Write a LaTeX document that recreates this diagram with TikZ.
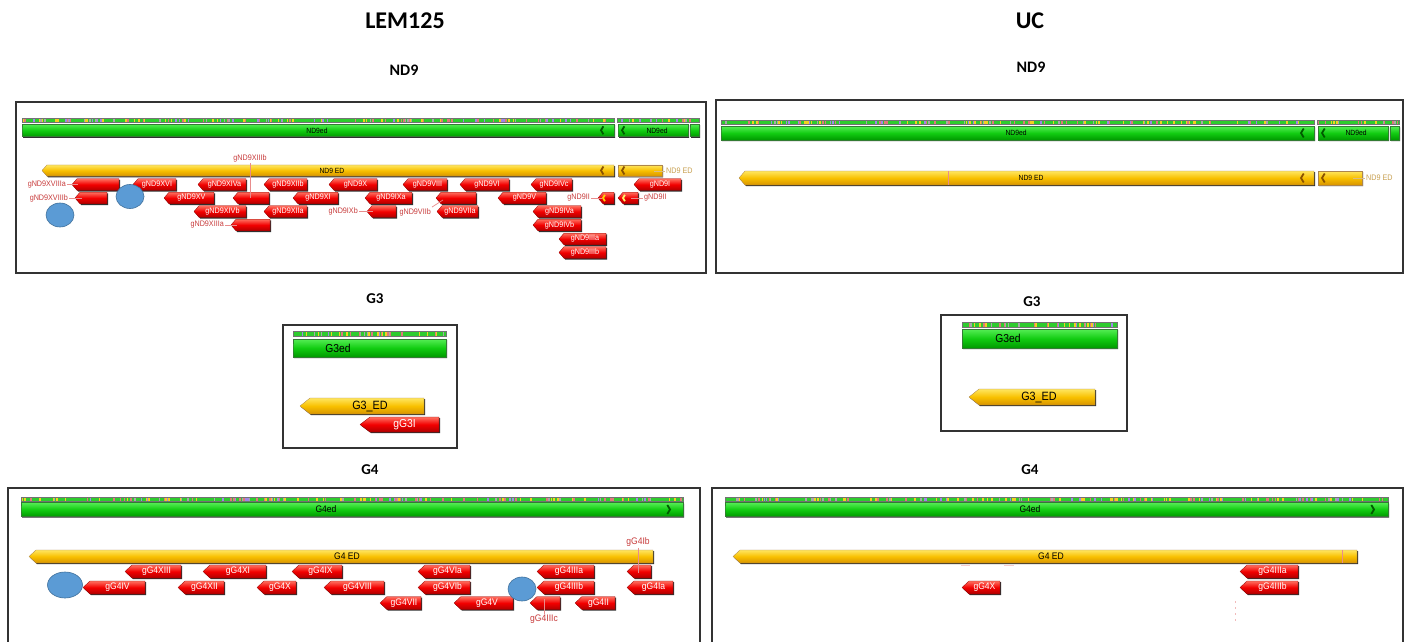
\documentclass[tikz,border=0pt]{standalone}
\usepackage{fontspec}
\setmainfont{Liberation Sans}
\newfontfamily\titlefont{Carlito}
\newfontfamily\gfont{Liberation Sans}[FakeStretch=0.9]
\usetikzlibrary{shapes.geometric}
\definecolor{rtop}{HTML}{FF7060}
\definecolor{rmid}{HTML}{F20000}
\definecolor{rbot}{HTML}{B00000}
\definecolor{ytop}{HTML}{FFE660}
\definecolor{ymid}{HTML}{F8C000}
\definecolor{ybot}{HTML}{D89400}
\definecolor{gtop}{HTML}{55EE55}
\definecolor{gmid}{HTML}{12CC12}
\definecolor{gbot}{HTML}{009A00}
\definecolor{gdark}{HTML}{005A00}
\definecolor{ydark}{HTML}{8A5200}
\definecolor{circfill}{HTML}{5B9BD5}
\definecolor{circdraw}{HTML}{41719C}
\definecolor{lblred}{HTML}{C83C3C}
\definecolor{lbltan}{HTML}{C8A050}
\definecolor{pinkline}{HTML}{E88C8C}
\definecolor{stgreen}{HTML}{2ECC2E}
\definecolor{stpink}{HTML}{E07878}
\definecolor{styellow}{HTML}{F2D020}
\definecolor{stpurple}{HTML}{9F86E8}
\definecolor{stgray}{HTML}{A8A8A8}
\definecolor{shadowc}{HTML}{303030}
\pgfmathdeclarerandomlist{stcols}{{stpink}{styellow}{stpurple}{stgray}{stpink}{styellow}}
\tikzset{
  frame/.style={draw=black!80, line width=1.3pt},
  title/.style={font=\titlefont\bfseries\fontsize{24}{28}\selectfont},
  subtitle/.style={font=\titlefont\bfseries\fontsize{16}{19}\selectfont},
  subtitlesm/.style={font=\titlefont\bfseries\fontsize{15}{18}\selectfont},
  redsh/.style={top color=rtop, bottom color=rbot, middle color=rmid, draw=rbot!85!black, line width=0.3pt},
  yelsh/.style={top color=ytop, bottom color=ybot, middle color=ymid, draw=ydark!70, line width=0.3pt},
  grnsh/.style={top color=gtop, bottom color=gbot, middle color=gmid, draw=gdark!80, line width=0.3pt},
  genetxt/.style={inner sep=0pt, text=white},
  bartxt/.style={inner sep=0pt, text=black},
  extred/.style={inner sep=1pt, text=lblred, font=\gfont\fontsize{8}{8}\selectfont},
  exttan/.style={inner sep=1pt, text=lbltan, font=\gfont\fontsize{8}{8}\selectfont},
  leadred/.style={draw=pinkline, line width=0.7pt},
  leadtan/.style={draw=lbltan!70, line width=0.7pt},
  circ/.style={ellipse, fill=circfill, draw=circdraw, line width=0.6pt, inner sep=0pt},
}
% pentagon pointing left: style, x1, x2, yc, half height, tip length
\newcommand\pent[6]{%
  \fill[shadowc] ({#2+1.2},{#4+1.2}) -- ({#2+#6+1.2},{#4-#5+1.2}) -- ({#3+1.2},{#4-#5+1.2}) -- ({#3+1.2},{#4+#5+1.2}) -- ({#2+#6+1.2},{#4+#5+1.2}) -- cycle;
  \shadedraw[#1] (#2,#4) -- ({#2+#6},{#4-#5}) -- (#3,{#4-#5}) -- (#3,{#4+#5}) -- ({#2+#6},{#4+#5}) -- cycle;
}
% gene: name, x1, x2, yc, half height, tip, font size, label
\newcommand\gene[8]{%
  \pent{redsh}{#2}{#3}{#4}{#5}{#6}
  \coordinate (#1-tip) at (#2,#4);
  \node[genetxt, font=\gfont\fontsize{#7}{#7}\selectfont] (#1) at ({(#2+#6+#3)/2},#4) {#8};
}
\newcommand\gnine[5]{\gene{#1}{#2}{#3}{#4}{5.8}{5}{8}{#5}}
\newcommand\gfour[5]{\gene{#1}{#2}{#3}{#4}{6.5}{7}{9.5}{#5}}
% stripe: x1 x2 ytop ybot
\newcommand\stripe[4]{%
  \fill[stgreen] (#1,#3) rectangle (#2,#4);
  \pgfmathtruncatemacro\ntick{(#2-#1)/4.5}
  \foreach \k in {1,...,\ntick}{%
    \pgfmathsetmacro\stx{#1+rnd*(#2-#1-1.5)}
    \pgfmathrandomitem{\stc}{stcols}
    \fill[\stc] (\stx,#3) rectangle ({\stx+1.5},#4);
  }
  \draw[black!55, line width=0.5pt] (#1,#3) rectangle (#2,#4);
}
% chevrons: x yc size colour
\newcommand\chevL[4]{\draw[#4, line width=1.8pt] ({#1+#3*0.6},{#2-#3}) -- (#1,#2) -- ({#1+#3*0.6},{#2+#3});}
\newcommand\chevR[4]{\draw[#4, line width=1.8pt] ({#1-#3*0.6},{#2-#3}) -- (#1,#2) -- ({#1-#3*0.6},{#2+#3});}
\begin{document}
\begin{tikzpicture}[x=1pt,y=-1pt]
\pgfmathsetseed{7}
\useasboundingbox (0,0) rectangle (1406,642);
\fill[white] (0,0) rectangle (1406,642);

% titles
\node[title] (tL) at (405,21) {LEM125};
\node[title] (tU) at (1030,21) {UC};
\node[subtitle] (nd9L) at (404,70) {ND9};
\node[subtitle] (nd9U) at (1031,67) {ND9};
\node[subtitlesm] (g3L) at (375,299) {G3};
\node[subtitlesm] (g3U) at (1032,302) {G3};
\node[subtitlesm] (g4L) at (370,470) {G4};
\node[subtitlesm] (g4U) at (1030,470) {G4};

% frames
\draw[frame] (16,102) rectangle (706,273);
\draw[frame] (716,100) rectangle (1403,273);
\draw[frame] (283,325) rectangle (457,448);
\draw[frame] (941,315) rectangle (1127,431);
\draw[frame] (8,645) -- (8,488) -- (700,488) -- (700,645);
\draw[frame] (712,645) -- (712,488) -- (1403,488) -- (1403,645);

% ===== LEM125 ND9 =====
\stripe{22}{614}{118}{122.5}
\stripe{617}{699}{118}{122.5}
\pent{grnsh}{22}{614}{130.3}{6.3}{0}
\pent{grnsh}{618}{688}{130.3}{6.3}{0}
\pent{grnsh}{690}{699}{130.3}{6.3}{0}
\chevL{601}{130.3}{4}{gdark}
\chevL{622}{130.3}{4}{gdark}
\node[bartxt, font=\gfont\fontsize{7.5}{7.5}\selectfont] (nd9edL1) at (317,130.5) {ND9ed};
\node[bartxt, font=\gfont\fontsize{7.5}{7.5}\selectfont] (nd9edL2) at (657,130.5) {ND9ed};
\pent{yelsh}{42}{614}{170.5}{5.6}{5}
\pent{yelsh}{618}{662}{170.5}{5.6}{0}
\chevL{601}{170.5}{4}{ydark}
\chevL{622}{170.5}{4}{ydark}
\node[bartxt, font=\gfont\fontsize{7.5}{7.5}\selectfont] (nd9EDL) at (332,170.5) {ND9 ED};
\coordinate (nd9EDLin) at (654,171);
\node[exttan, anchor=west] (nd9EDLx) at (665,171) {ND9 ED};
\draw[leadtan] (nd9EDLin) -- (nd9EDLx.west);

\gnine{n-XVIIIa}{72}{119}{184.5}{}
\gnine{n-XVI}{133}{176}{184.5}{gND9XVI}
\gnine{n-XIVa}{198}{246}{184.5}{gND9XIVa}
\gnine{n-XIIb}{264}{307}{184.5}{gND9XIIb}
\gnine{n-X}{329}{377}{184.5}{gND9X}
\gnine{n-VIII}{403}{447}{184.5}{gND9VIII}
\gnine{n-VI}{460}{509}{184.5}{gND9VI}
\gnine{n-IVc}{531}{572}{184.5}{gND9IVc}
\gnine{n-I}{634}{681}{184.5}{gND9I}
\gnine{n-XVIIIb}{75}{107}{198}{}
\gnine{n-XV}{164}{214}{198}{gND9XV}
\gnine{n-XIIIb}{233}{269}{198}{}
\gnine{n-XI}{293}{338}{198}{gND9XI}
\gnine{n-IXa}{365}{412}{198}{gND9IXa}
\gnine{n-VIIb}{436}{476}{198}{}
\gnine{n-V}{498}{546}{198}{gND9V}
\gnine{n-IIa}{598}{614}{198}{}
\gnine{n-IIb}{618}{638}{198}{}
\chevL{603}{198}{3.2}{yellow!70!orange}
\chevL{623}{198}{3.2}{yellow!60!white}
\gnine{n-XIVb}{194}{246}{211.5}{gND9XIVb}
\gnine{n-XIIa}{264}{307}{211.5}{gND9XIIa}
\gnine{n-IXb}{367}{396}{211.5}{}
\gnine{n-VIIa}{437}{478}{211.5}{gND9VIIa}
\gnine{n-IVa}{533}{581}{211.5}{gND9IVa}
\gnine{n-XIIIa}{231}{270}{225}{}
\gnine{n-IVb}{533}{581}{225}{gND9IVb}
\gnine{n-IIIa}{559}{606}{239}{gND9IIIa}
\gnine{n-IIIb}{559}{606}{252.5}{gND9IIIb}

\node[extred, anchor=east] (l-XVIIIa) at (67,184.5) {gND9XVIIIa};
\draw[leadred] (l-XVIIIa.east) -- ([xshift=6pt]n-XVIIIa-tip);
\node[extred, anchor=east] (l-XVIIIb) at (69,198) {gND9XVIIIb};
\draw[leadred] (l-XVIIIb.east) -- ([xshift=7pt]n-XVIIIb-tip);
\node[extred] (l-XIIIb) at (250,158) {gND9XIIIb};
\draw[leadred] (l-XIIIb.south) -- (l-XIIIb.south |- n-XIIIb);
\node[extred, anchor=east] (l-IXb) at (359,211.5) {gND9IXb};
\draw[leadred] (l-IXb.east) -- ([xshift=6pt]n-IXb-tip);
\node[extred, anchor=east] (l-XIIIa) at (225,225) {gND9XIIIa};
\draw[leadred] (l-XIIIa.east) -- ([xshift=6pt]n-XIIIa-tip);
\node[extred, anchor=east] (l-VIIb) at (432,212) {gND9VIIb};
\draw[leadred] (l-VIIb.north east) -- ([shift={(7,2)}]n-VIIb-tip);
\node[extred, anchor=east] (l-IIa) at (591,198) {gND9II};
\draw[leadred] (l-IIa.east) -- ([xshift=4pt]n-IIa-tip);
\node[extred, anchor=west] (l-IIb) at (643,198) {gND9II};
\draw[leadred] (n-IIb) -- (l-IIb.west);

% ===== UC ND9 =====
\stripe{721}{1314}{120}{124.5}
\stripe{1317}{1399}{120}{124.5}
\pent{grnsh}{721}{1314}{133}{6.8}{0}
\pent{grnsh}{1318}{1388}{133}{6.8}{0}
\pent{grnsh}{1390}{1399}{133}{6.8}{0}
\chevL{1301}{133}{4.5}{gdark}
\chevL{1322}{133}{4.5}{gdark}
\node[bartxt, font=\gfont\fontsize{7.5}{7.5}\selectfont] (nd9edU1) at (1016,133) {ND9ed};
\node[bartxt, font=\gfont\fontsize{7.5}{7.5}\selectfont] (nd9edU2) at (1356,133) {ND9ed};
\pent{yelsh}{739}{1314}{178}{7}{6}
\pent{yelsh}{1318}{1362}{178}{7}{0}
\chevL{1301}{178}{4.5}{ydark}
\chevL{1322}{178}{4.5}{ydark}
\node[bartxt, font=\gfont\fontsize{7.5}{7.5}\selectfont] (nd9EDU) at (1031,178) {ND9 ED};
\coordinate (pkU1a) at (948,171);
\coordinate (pkU1b) at (948,185);
\draw[leadred] (pkU1a) -- (pkU1b);
\coordinate (nd9EDUin) at (1353,178);
\node[exttan, anchor=west] (nd9EDUx) at (1365,178) {ND9 ED};
\draw[leadtan] (nd9EDUin) -- (nd9EDUx.west);

% ===== LEM125 G3 =====
\stripe{293}{446}{331}{336}
\pent{grnsh}{293}{446}{348}{9}{0}
\node[bartxt, font=\gfont\fontsize{11.5}{11.5}\selectfont] (g3edL) at (338,348) {G3ed};
\pent{yelsh}{300}{424}{406}{8}{10}
\node[bartxt, font=\gfont\fontsize{12}{12}\selectfont] (g3EDL) at (370,406) {G3\_ED};
\gene{gG3I}{360}{439}{424.5}{7.5}{10}{11.5}{gG3I}

% ===== UC G3 =====
\stripe{962}{1117}{322}{327}
\pent{grnsh}{962}{1117}{338.5}{9.5}{0}
\node[bartxt, font=\gfont\fontsize{11.5}{11.5}\selectfont] (g3edU) at (1008,338) {G3ed};
\pent{yelsh}{969}{1095}{397}{8}{10}
\node[bartxt, font=\gfont\fontsize{12}{12}\selectfont] (g3EDU) at (1039,397) {G3\_ED};

% ===== LEM125 G4 =====
\stripe{21}{683}{497}{501}
\pent{grnsh}{21}{683}{509.5}{7}{0}
\chevR{670}{509.5}{4.5}{gdark}
\node[bartxt, font=\gfont\fontsize{9.5}{9.5}\selectfont] (g4edL) at (326,509.5) {G4ed};
\pent{yelsh}{29}{653}{556.5}{6.5}{7}
\node[bartxt, font=\gfont\fontsize{9.5}{9.5}\selectfont] (g4EDL) at (347,556.5) {G4 ED};

\gfour{g-XIII}{125}{181}{571.5}{gG4XIII}
\gfour{g-XI}{203}{266}{571.5}{gG4XI}
\gfour{g-IX}{292}{342}{571.5}{gG4IX}
\gfour{g-VIa}{418}{470}{571.5}{gG4VIa}
\gfour{g-IIIa}{537}{594}{571.5}{gG4IIIa}
\gfour{g-Ib}{627}{651}{571.5}{}
\gfour{g-IV}{83}{145}{587.5}{gG4IV}
\gfour{g-XII}{178}{224}{587.5}{gG4XII}
\gfour{g-X}{257}{296}{587.5}{gG4X}
\gfour{g-VIII}{324}{384}{587.5}{gG4VIII}
\gfour{g-VIb}{418}{470}{587.5}{gG4VIb}
\gfour{g-IIIb}{537}{594}{587.5}{gG4IIIb}
\gfour{g-Ia}{627}{673}{587.5}{gG4Ia}
\gfour{g-VII}{380}{421}{603}{gG4VII}
\gfour{g-V}{454}{513}{603}{gG4V}
\gfour{g-IIIc}{530}{560}{603}{}
\gfour{g-II}{575}{615}{603}{gG4II}

\node[extred, font=\gfont\fontsize{9.5}{9.5}\selectfont] (l-g4Ib) at (638,542) {gG4Ib};
\draw[leadred] (l-g4Ib.south) -- ([yshift=-1pt]l-g4Ib.south |- g-Ib);
\node[extred, font=\gfont\fontsize{9.5}{9.5}\selectfont] (l-g4IIIc) at (544,619) {gG4IIIc};
\draw[leadred] (l-g4IIIc.north) -- ([yshift=4pt]l-g4IIIc.north |- g-IIIc);

% ===== UC G4 =====
\stripe{725}{1388}{497}{501}
\pent{grnsh}{725}{1388}{509.5}{7}{0}
\chevR{1374}{509.5}{4.5}{gdark}
\node[bartxt, font=\gfont\fontsize{9.5}{9.5}\selectfont] (g4edU) at (1030,509.5) {G4ed};
\pent{yelsh}{733}{1357}{556.5}{6.5}{7}
\node[bartxt, font=\gfont\fontsize{9.5}{9.5}\selectfont] (g4EDU) at (1051,556.5) {G4 ED};
\coordinate (pkU2a) at (1342,550);
\coordinate (pkU2b) at (1342,563);
\draw[leadred] (pkU2a) -- (pkU2b);
\gfour{u-X}{962}{1000}{587.5}{gG4X}
\gfour{u-IIIa}{1240}{1298}{571.5}{gG4IIIa}
\gfour{u-IIIb}{1240}{1298}{587.5}{gG4IIIb}
% faint marks
\coordinate (fm1a) at (961,565.5);
\coordinate (fm1b) at (970,565.5);
\coordinate (fm2a) at (1004,565.5);
\coordinate (fm2b) at (1014,565.5);
\coordinate (fm3a) at (1235,601);
\coordinate (fm3b) at (1235,623);
\draw[pinkline!45, line width=0.8pt] (fm1a) -- (fm1b);
\draw[pinkline!45, line width=0.8pt] (fm2a) -- (fm2b);
\draw[pinkline!60, line width=0.6pt, dash pattern=on 2pt off 4pt] (fm3a) -- (fm3b);

% blue circles
\node[circ, minimum width=28pt, minimum height=24pt] (c1) at (60,215) {};
\node[circ, minimum width=28pt, minimum height=24pt] (c2) at (130,196.5) {};
\node[circ, minimum width=35pt, minimum height=26pt] (c3) at (65,585) {};
\node[circ, minimum width=28pt, minimum height=24pt] (c4) at (522,589) {};
\end{tikzpicture}
\end{document}
